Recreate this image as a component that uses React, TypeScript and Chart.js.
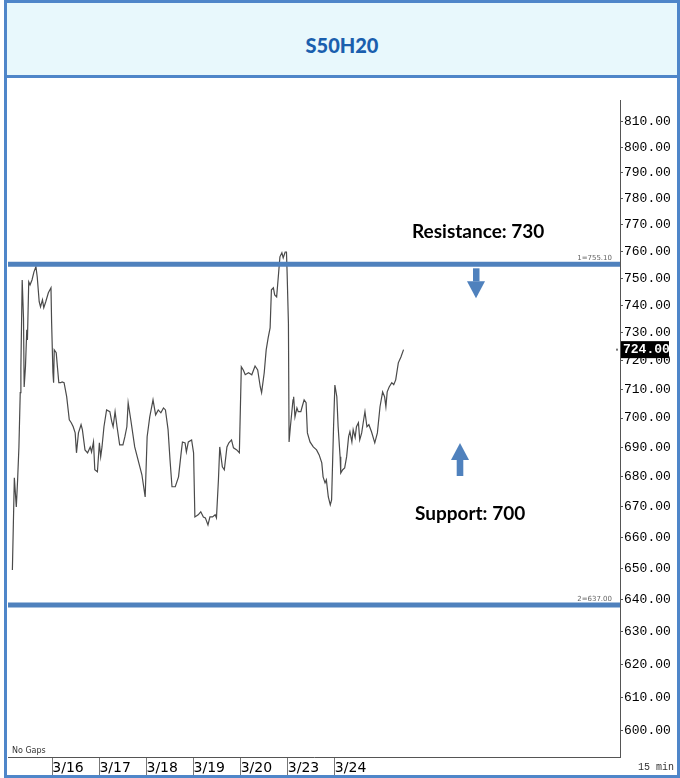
import React, { useEffect, useRef } from "react";
import { Chart, registerables } from "chart.js";

Chart.register(...registerables);

const TITLE = "S50H20";
const DAY_LABELS = ["3/16", "3/17", "3/18", "3/19", "3/20", "3/23", "3/24"];
// time index (5-min steps) at which each session begins
const DAY_STARTS = [72, 144, 216, 288, 360, 432, 504];
const Y_TICKS = [600, 610, 620, 630, 640, 650, 660, 670, 680, 690, 700, 710, 720, 730, 740, 750, 760, 770, 780, 790, 800, 810];

const X_MIN = 4.3;
const X_MAX = 939.9;
const Y_MIN = 592.3;
const Y_MAX = 818.8;

// time index of each traced price point
const T = [
  11, 14, 17, 19, 21, 23, 24, 26, 28, 29,
  31, 33, 34, 36, 38, 41, 44, 47, 49, 52,
  54, 57, 59, 62, 66, 70, 71, 73, 74, 75,
  78, 80, 82, 85, 87, 90, 94, 98, 101, 104,
  107, 109, 112, 116, 118, 122, 126, 130, 132, 135,
  137, 141, 144, 146, 148, 151, 155, 160, 163, 165,
  168, 171, 175, 180, 183, 186, 188, 192, 198, 209,
  214, 217, 221, 226, 230, 234, 238, 242, 245, 249,
  252, 255, 260, 265, 269, 271, 275, 277, 280, 285,
  288, 290, 295, 299, 303, 306, 310, 313, 317, 321,
  323, 326, 328, 332, 335, 339, 342, 346, 349, 354,
  358, 361, 364, 367, 372, 377, 382, 386, 390, 392,
  396, 399, 402, 405, 407, 410, 412, 415, 418, 420,
  423, 425, 428, 430, 431, 433, 434, 436, 440, 441,
  443, 446, 448, 452, 454, 457, 460, 462, 466, 471,
  476, 480, 484, 486, 489, 491, 494, 497, 499, 502,
  504, 507, 509, 512, 513, 516, 519, 522, 525, 527,
  530, 532, 535, 537, 540, 542, 545, 548, 550, 553,
  556, 560, 565, 569, 573, 577, 580, 582, 584, 587,
  591, 594, 597, 601, 605, 609,
];

const PRICE = [
  649.5, 679.7, 670.0, 679.0, 690.1, 708.8, 717.5, 749.3, 735.4, 710.8,
  717.9, 731.1, 727.5, 748.6, 747.5, 749.3, 752.3, 754.2, 750.4, 741.3,
  739.4, 742.0, 739.1, 741.3, 744.6, 746.4, 733.6, 715.8, 712.3, 723.9,
  722.9, 717.5, 712.3, 712.3, 712.6, 712.3, 707.4, 699.4, 698.4, 697.0,
  694.9, 688.1, 694.9, 697.7, 696.0, 689.1, 688.1, 690.1, 688.4, 691.8,
  682.4, 681.7, 691.5, 686.8, 690.1, 697.0, 702.8, 702.2, 698.7, 697.0,
  702.2, 697.0, 690.8, 690.8, 693.6, 697.0, 705.3, 699.4, 690.1, 680.7,
  673.3, 693.6, 700.4, 706.3, 701.1, 702.8, 701.8, 703.5, 702.8, 696.0,
  685.7, 676.7, 676.7, 680.0, 688.1, 691.8, 691.5, 688.4, 691.8, 692.5,
  688.1, 666.7, 667.4, 668.4, 666.7, 666.4, 664.1, 666.7, 666.7, 667.4,
  666.4, 679.0, 690.1, 683.4, 682.4, 690.1, 691.5, 692.5, 689.8, 689.1,
  688.1, 717.9, 716.8, 715.1, 715.8, 715.1, 718.2, 716.8, 710.8, 708.8,
  715.8, 723.9, 728.2, 731.8, 745.7, 746.4, 743.8, 743.1, 751.9, 757.9,
  759.4, 757.5, 759.7, 759.7, 751.9, 733.6, 691.8, 697.0, 706.3, 707.4,
  700.4, 703.5, 702.2, 702.2, 703.9, 706.3, 705.3, 694.9, 691.8, 690.1,
  689.1, 687.4, 684.7, 680.0, 678.0, 679.0, 673.3, 670.7, 672.3, 697.0,
  711.5, 707.4, 697.0, 686.8, 681.3, 682.4, 683.0, 686.8, 693.6, 695.3,
  691.8, 696.0, 693.3, 697.0, 698.4, 692.5, 694.9, 699.4, 702.2, 697.0,
  697.7, 695.3, 691.5, 694.9, 703.9, 709.1, 707.4, 703.9, 709.1, 710.8,
  712.3, 711.6, 713.3, 719.3, 721.4, 724.0,
];

const RESISTANCE_LEVEL = 755.1;
const SUPPORT_LEVEL = 637.0;
const RESISTANCE_LINE = 755.1;
const SUPPORT_LINE = 638.4;
const LAST_PRICE = 724.0;
const RES_TEXT = "Resistance: 730";
const SUP_TEXT = "Support: 700";

const BLUE = "#4f81bd";
const FRAME = "#4f86c9";

const overlay = {
  id: "overlay",
  afterDraw(chart: any) {
    const { ctx, chartArea: a, scales } = chart;
    const y = scales.y;
    const yr = y.getPixelForValue(RESISTANCE_LINE);
    const ys = y.getPixelForValue(SUPPORT_LINE);
    ctx.save();
    // level tags
    ctx.fillStyle = "#666";
    ctx.font = '7px "DejaVu Sans"';
    ctx.textAlign = "right";
    ctx.textBaseline = "alphabetic";
    ctx.fillText(`1=${RESISTANCE_LEVEL.toFixed(2)}`, a.right - 8, yr - 4);
    ctx.fillText(`2=${SUPPORT_LEVEL.toFixed(2)}`, a.right - 8, ys - 4);
    // annotation texts
    ctx.fillStyle = "#000";
    ctx.font = "bold 19px Lato";
    ctx.textAlign = "left";
    ctx.fillText(RES_TEXT, 405, 160);
    ctx.fillText(SUP_TEXT, 408, 442);
    // arrows
    ctx.fillStyle = BLUE;
    ctx.fillRect(466, yr + 4, 6.5, 13);
    ctx.beginPath();
    ctx.moveTo(460, yr + 17);
    ctx.lineTo(478, yr + 17);
    ctx.lineTo(469, yr + 34);
    ctx.closePath();
    ctx.fill();
    ctx.beginPath();
    ctx.moveTo(453, 365);
    ctx.lineTo(462, 382);
    ctx.lineTo(444, 382);
    ctx.closePath();
    ctx.fill();
    ctx.fillRect(449.7, 382, 6.6, 16);
    // last price tag
    const yl = y.getPixelForValue(LAST_PRICE);
    ctx.fillStyle = "#000";
    ctx.fillRect(a.right + 1, yl - 8.5, 48, 17);
    ctx.fillStyle = "#fff";
    ctx.font = 'bold 13px "Liberation Mono"';
    ctx.textBaseline = "middle";
    ctx.fillText(LAST_PRICE.toFixed(2), a.right + 3, yl + 0.5);
    ctx.fillStyle = "#777";
    ctx.fillRect(a.right - 4, yl - 1, 2, 2);
    // footnotes
    ctx.fillStyle = "#333";
    ctx.font = '8px "DejaVu Sans"';
    ctx.fillText("No Gaps", a.left + 4, a.bottom - 6);
    ctx.font = '10px "Liberation Mono"';
    ctx.fillText("15 min", a.right + 18, a.bottom + 10);
    ctx.restore();
  },
};

export default function App() {
  const ref = useRef<HTMLCanvasElement>(null);
  useEffect(() => {
    document.body.style.margin = "0";
    const chart = new Chart(ref.current as HTMLCanvasElement, {
      type: "line",
      data: {
        datasets: [
          {
            label: TITLE,
            data: T.map((t, i) => ({ x: t, y: PRICE[i] })),
            borderColor: "#4a4a4a",
            borderWidth: 1.2,
            pointRadius: 0,
            tension: 0,
            order: 1,
          },
          {
            label: "Resistance",
            data: [
              { x: X_MIN, y: RESISTANCE_LINE },
              { x: X_MAX, y: RESISTANCE_LINE },
            ],
            borderColor: BLUE,
            borderWidth: 5,
            pointRadius: 0,
            order: 0,
          },
          {
            label: "Support",
            data: [
              { x: X_MIN, y: SUPPORT_LINE },
              { x: X_MAX, y: SUPPORT_LINE },
            ],
            borderColor: BLUE,
            borderWidth: 5,
            pointRadius: 0,
            order: 0,
          },
        ],
      },
      options: {
        responsive: false,
        animation: false,
        devicePixelRatio: 1,
        layout: { padding: { left: 1, top: 22, right: 0, bottom: 0 } },
        plugins: {
          legend: { display: false },
          tooltip: { enabled: false },
        },
        scales: {
          x: {
            type: "linear",
            min: X_MIN,
            max: X_MAX,
            bounds: "data",
            afterBuildTicks: (s: any) => {
              s.ticks = DAY_STARTS.map((v) => ({ value: v }));
            },
            afterFit: (s: any) => {
              s.height = 18;
            },
            ticks: {
              autoSkip: false,
              maxRotation: 0,
              minRotation: 0,
              align: "start",
              padding: -15,
              callback: (_v: any, i: number) => DAY_LABELS[i],
              font: { family: '"DejaVu Sans"', size: 14 },
              color: "#000",
            },
            grid: { drawOnChartArea: false, tickLength: 18, color: "#777" },
            border: { color: "#555" },
          },
          y: {
            type: "logarithmic",
            position: "right",
            min: Y_MIN,
            max: Y_MAX,
            bounds: "data",
            afterBuildTicks: (s: any) => {
              s.ticks = Y_TICKS.map((v) => ({ value: v }));
            },
            afterFit: (s: any) => {
              s.width = 57;
            },
            ticks: {
              autoSkip: false,
              callback: (v: any) => Number(v).toFixed(2),
              font: { family: '"Liberation Mono"', size: 13 },
              color: "#000",
              padding: 1,
            },
            grid: { drawOnChartArea: false, tickLength: 3, color: "#555" },
            border: { display: true, color: "#555", dash: [2, 2] },
          },
        },
      } as any,
      plugins: [overlay],
    });
    return () => chart.destroy();
  }, []);

  return (
    <div style={{ position: "relative", width: 680, height: 778, background: "#fff", overflow: "hidden" }}>
      <div
        style={{
          position: "absolute",
          left: 4,
          top: 0,
          width: 676,
          height: 778,
          border: `3px solid ${FRAME}`,
          boxSizing: "border-box",
        }}
      />
      <div
        style={{
          position: "absolute",
          left: 7,
          top: 3,
          width: 670,
          height: 75,
          boxSizing: "border-box",
          borderBottom: `3px solid ${FRAME}`,
          background: "#e8f8fc",
          display: "flex",
          alignItems: "center",
          justifyContent: "center",
          paddingTop: 12,
          font: "900 20px Lato",
          color: "#1a5fae",
        }}
      >
        {TITLE}
      </div>
      <canvas
        ref={ref}
        width={670}
        height={697}
        style={{ position: "absolute", left: 7, top: 78, width: 670, height: 697 }}
      />
    </div>
  );
}
